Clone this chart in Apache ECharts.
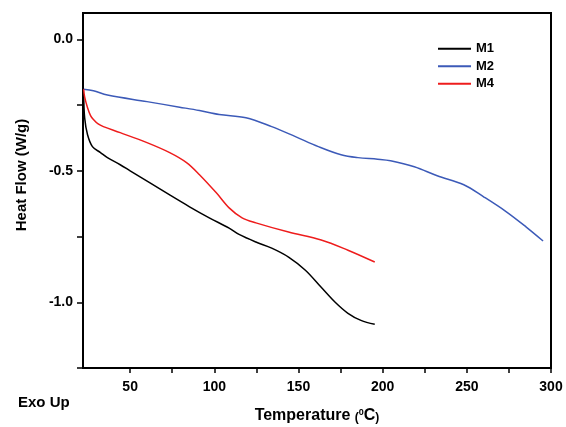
<!DOCTYPE html>
<html><head><meta charset="utf-8">
<script src="https://cdn.jsdelivr.net/npm/echarts@6/dist/echarts.min.js"></script>
<style>html,body{margin:0;padding:0;background:#fff}#c{width:566px;height:427px}</style>
</head><body><div id="c"></div>
<script>
const seriesNames = ['M1', 'M2', 'M4'];
const m1 = [[22.4,-0.21],[23,-0.30],[24.7,-0.363],[27.6,-0.408],[32.4,-0.431],[36.5,-0.45],[44.1,-0.477],[50,-0.5],[61.8,-0.546],[73.5,-0.592],[85.3,-0.637],[97,-0.679],[108.8,-0.718],[114.7,-0.742],[124.7,-0.771],[134.1,-0.794],[144.1,-0.828],[154.1,-0.878],[163.5,-0.943],[171.8,-1.0],[179.4,-1.042],[187.1,-1.069],[195.3,-1.084]];
const m2 = [[22.4,-0.19],[28.2,-0.196],[36.5,-0.212],[60,-0.237],[79.4,-0.258],[91.2,-0.271],[102.9,-0.286],[118.8,-0.298],[134.1,-0.332],[148.2,-0.37],[161.8,-0.408],[175.3,-0.439],[185.3,-0.45],[197,-0.456],[204.7,-0.462],[218.8,-0.485],[232.4,-0.519],[248.2,-0.553],[260,-0.599],[273.5,-0.656],[285.3,-0.714],[295.3,-0.767]];
const m4 = [[22.4,-0.19],[23,-0.22],[24.7,-0.26],[26.5,-0.29],[28.2,-0.305],[31,-0.322],[34.1,-0.332],[44.1,-0.355],[60,-0.393],[73.5,-0.431],[83.5,-0.469],[91.2,-0.515],[101.2,-0.584],[108.8,-0.641],[116.5,-0.679],[124.7,-0.698],[144.1,-0.733],[163.5,-0.763],[179.4,-0.802],[195.3,-0.847]];
const xTicks = [50,75,100,125,150,175,200,225,250,275,300];
const xLabels = [50,100,150,200,250,300];
const yTicks = [0,-0.25,-0.5,-0.75,-1.0,-1.25];
const yLabels = [0,-0.5,-1.0];
const colors = ['#000000', '#3c5ab8', '#ee1c1c'];

const chart = echarts.init(document.getElementById('c'));
const font = 'Liberation Sans, Arial, sans-serif';
chart.setOption({
  animation: false,
  grid: {left: 83, right: 15, top: 13, bottom: 59, show: true, borderColor: '#000', borderWidth: 2,
    containLabel: false, outerBoundsMode: 'none'},
  legend: {
    orient: 'vertical', left: 433, top: 35, itemWidth: 33, itemHeight: 2, itemGap: 0, icon: 'rect',
    textStyle: {fontFamily: font, fontWeight: 'bold', fontSize: 13, color: '#000', lineHeight: 17.5},
    data: seriesNames
  },
  xAxis: {
    type: 'value', min: 22, max: 300,
    axisLine: {show: true, onZero: false, lineStyle: {color: '#000', width: 2}},
    axisTick: {show: true, length: 5, customValues: xTicks, lineStyle: {color: '#000', width: 1.5}},
    axisLabel: {customValues: xLabels, margin: 12, fontFamily: font, fontWeight: 'bold', fontSize: 14, color: '#000'},
    splitLine: {show: false},
    name: '{t|Temperature }{p|(}{s|0}{t|C}{p|)}', nameLocation: 'middle', nameGap: 40,
    nameTextStyle: {rich: {
      t: {fontFamily: font, fontWeight: 'bold', fontSize: 16, color: '#000'},
      p: {fontFamily: font, fontWeight: 'bold', fontSize: 12, color: '#000', verticalAlign: 'bottom'},
      s: {fontFamily: font, fontWeight: 'bold', fontSize: 9, color: '#000', verticalAlign: 'top', padding: [0,0,6,0]}
    }}
  },
  yAxis: {
    type: 'value', min: -1.25, max: 0.1,
    axisLine: {show: true, onZero: false, lineStyle: {color: '#000', width: 2}},
    axisTick: {show: true, length: 6, customValues: yTicks, lineStyle: {color: '#000', width: 1.5}},
    axisLabel: {customValues: yLabels, margin: 10, fontFamily: font, fontWeight: 'bold', fontSize: 14, color: '#000',
      formatter: v => v.toFixed(1)},
    splitLine: {show: false}
  },
  graphic: [
    {type: 'text', left: 18, top: 395, style: {text: 'Exo Up', font: 'bold 15px ' + font, fill: '#000'}},
    {type: 'text', x: 22, y: 175, rotation: Math.PI / 2,
      style: {text: 'Heat Flow (W/g)', font: 'bold 15px ' + font, fill: '#000', align: 'center', verticalAlign: 'middle'}}
  ],
  series: [
    {name: 'M1', type: 'line', data: m1, smooth: 0.35, symbol: 'none', lineStyle: {color: colors[0], width: 1.5}, itemStyle: {color: colors[0]}},
    {name: 'M2', type: 'line', data: m2, smooth: 0.35, symbol: 'none', lineStyle: {color: colors[1], width: 1.5}, itemStyle: {color: colors[1]}},
    {name: 'M4', type: 'line', data: m4, smooth: 0.35, symbol: 'none', lineStyle: {color: colors[2], width: 1.5}, itemStyle: {color: colors[2]}}
  ]
});
</script></body></html>
